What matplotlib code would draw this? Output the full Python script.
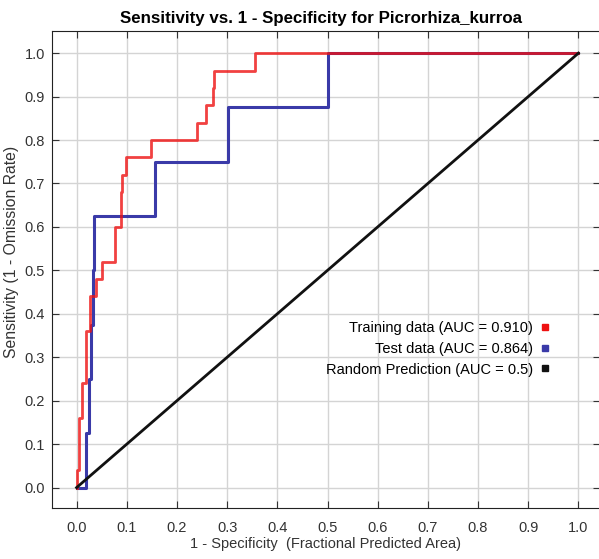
import numpy as np
import matplotlib
matplotlib.use("Agg")
import matplotlib.pyplot as plt
from matplotlib.lines import Line2D

plt.rcParams['font.family'] = ['Liberation Sans', 'DejaVu Sans']

# training curve: fpr where tpr steps up, and the new tpr level
fpr_train = [0, 0, 0.005, 0.011, 0.018, 0.027, 0.038, 0.051, 0.076, 0.088,
             0.091, 0.098, 0.149, 0.240, 0.258, 0.271, 0.274, 0.356, 1.0]
tpr_train = [0, 0.04, 0.16, 0.24, 0.36, 0.44, 0.48, 0.52, 0.60, 0.68,
             0.72, 0.76, 0.80, 0.84, 0.88, 0.92, 0.96, 1.00, 1.00]

# test curve
fpr_test = [0, 0.018, 0.025, 0.029, 0.033, 0.035, 0.156, 0.301, 0.5, 1.0]
tpr_test = [0, 0.125, 0.25, 0.375, 0.5, 0.625, 0.75, 0.875, 1.0, 1.0]

rand_x = [0, 1]
rand_y = [0, 1]

labels = ["Training data (AUC = 0.910)", "Test data (AUC = 0.864)",
          "Random Prediction (AUC = 0.5)"]
colors = ["#ee1111", "#3a3aa8", "#111111"]
ticks = np.round(np.arange(0, 1.01, 0.1), 1)

fig = plt.figure(figsize=(5.99, 5.59), dpi=100)
ax = fig.add_axes([52/599, 1-508/559, 548/599, 477/559])

ax.step(fpr_test, tpr_test, where='post', color=colors[1], lw=2.2, zorder=3)
ax.step(fpr_train, tpr_train, where='post', color=colors[0], lw=2.0, alpha=0.8, zorder=4)
ax.plot(rand_x, rand_y, color=colors[2], lw=2.0, zorder=5)

ax.set_xlim(-0.049, 1.043)
ax.set_ylim(-0.047, 1.051)
ax.set_xticks(ticks)
ax.set_yticks(ticks)
ax.set_xticklabels([f"{t:.1f}" for t in ticks])
ax.set_yticklabels([f"{t:.1f}" for t in ticks])
ax.tick_params(direction='in', length=5, top=True, right=True,
               labelsize=10.5, colors='#333333')
ax.tick_params(axis='x', pad=9)
ax.tick_params(axis='y', pad=5)
ax.grid(True, color='#d4d4d4', lw=1)
ax.set_axisbelow(True)
for s in ax.spines.values():
    s.set_color('#222222')

ax.set_title("Sensitivity vs. 1 - Specificity for Picrorhiza_kurroa",
             fontsize=12.2, fontweight='bold', pad=6, x=0.49)
ax.set_xlabel("1 - Specificity  (Fractional Predicted Area)", fontsize=10.5,
              color='#333333', labelpad=2)
ax.set_ylabel("Sensitivity (1 - Omission Rate)", fontsize=11.3,
              color='#333333', labelpad=2)
ax.yaxis.set_label_coords(-0.06, 0.537)

handles = [Line2D([], [], ls='none', marker='s', markersize=5, color=c)
           for c in colors]
ax.legend(handles, labels, loc='lower right', bbox_to_anchor=(0.936, 0.248),
          frameon=False, markerfirst=False, fontsize=10.5, handletextpad=0.3,
          labelspacing=0.45, handlelength=1.0, alignment='right')

fig.savefig("out.png", dpi=100)
